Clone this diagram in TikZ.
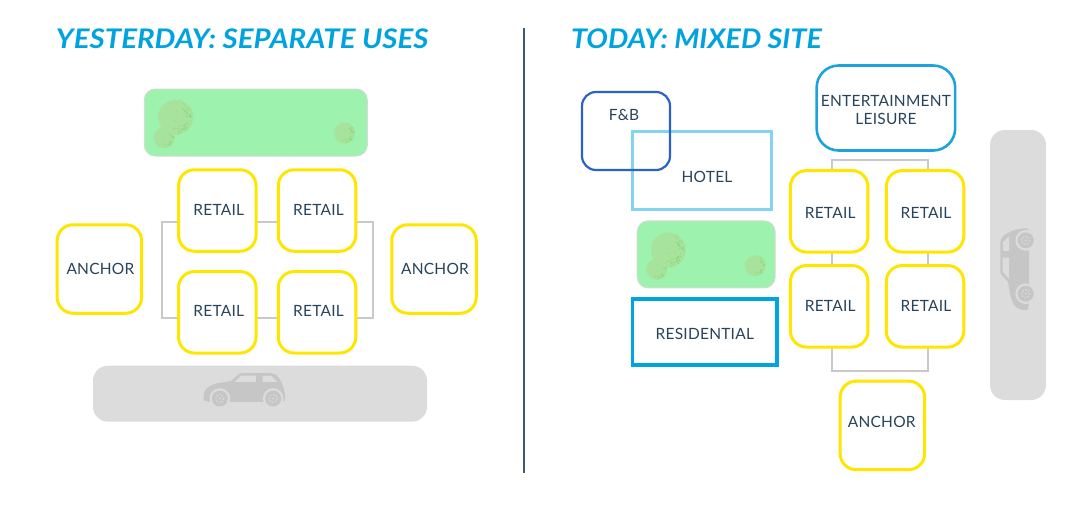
\documentclass[tikz,border=0pt]{standalone}
\usepackage{fontspec}
\setmainfont{Lato}[LetterSpace=1.5]
\newfontfamily\titlefont{Lato}[LetterSpace=0,FakeStretch=1.09]
\newfontfamily\titlefontb{Lato}[LetterSpace=0,FakeStretch=1.062]
\definecolor{inkc}{HTML}{27445C}
\definecolor{titlec}{HTML}{00A3E0}
\definecolor{yellowc}{HTML}{FFE600}
\definecolor{roadc}{HTML}{DCDCDC}
\definecolor{framec}{HTML}{C9C9C9}
\definecolor{carc}{HTML}{C6C6C6}
\definecolor{grassc}{HTML}{9DF2AE}
\definecolor{grassb}{HTML}{D2DCD4}
\definecolor{dotc}{HTML}{78CC70}
\definecolor{fnbc}{HTML}{2A62C9}
\definecolor{hotelc}{HTML}{85D3F2}
\definecolor{resc}{HTML}{00A5DF}
\definecolor{entc}{HTML}{1BA3DD}
\definecolor{divc}{HTML}{3E5A6E}
\pgfdeclareradialshading{treeball}{\pgfpoint{-10bp}{10bp}}{
  rgb(0bp)=(0.66,0.89,0.62);
  rgb(38bp)=(0.65,0.89,0.60);
  rgb(48bp)=(0.59,0.87,0.56);
  rgb(62bp)=(0.46,0.80,0.44)}
\tikzset{
  every node/.style={inner sep=0pt,outer sep=0pt,text=inkc,font=\fontsize{15.5}{18}\selectfont},
  pad/.style={rectangle,draw=#1,line width=3pt,fill=white},
  retailbox/.style={pad=yellowc,rounded corners=16pt,minimum width=77.5pt,minimum height=81.5pt},
  anchorbox/.style={pad=yellowc,rounded corners=16pt,minimum width=84.5pt,minimum height=88.5pt},
  roadbox/.style={rectangle,fill=roadc,rounded corners=15pt},
  grassbox/.style={rectangle,fill=grassc,draw=grassb,line width=1pt,rounded corners=11pt,minimum width=223pt,minimum height=67pt},
  framebox/.style={rectangle,draw=framec,line width=2pt},
  headline/.style={anchor=base west,text=titlec,font=\bfseries\itshape\fontsize{27}{30}\selectfont},
  tree/.pic={
    \shade[shading=treeball] (0,0) circle (1);
    \pgfmathsetseed{11}
    \foreach \i in {1,...,40}{
      \pgfmathsetmacro\aa{-60+170*rnd}
      \pgfmathsetmacro\rr{0.6+0.37*rnd}
      \fill[dotc] (\aa:\rr) circle (0.028);
    }
    \foreach \i in {1,...,8}{
      \pgfmathsetmacro\aa{360*rnd}
      \pgfmathsetmacro\rr{0.9*rnd}
      \fill[dotc,opacity=.5] (\aa:\rr) circle (0.025);
    }
  },
  car/.pic={
    \begin{scope}[scale=1/3]
    \fill[carc] (-128,6) .. controls (-132,-20) and (-122,-38) .. (-85,-46)
      -- (-45,-53) -- (-22,-74) .. controls (-20,-76) and (-18,-76) .. (-15,-76)
      -- (72,-76) .. controls (90,-76) and (96,-64) .. (102,-54)
      .. controls (112,-36) and (116,-18) .. (116,6) -- (100,10) -- (-110,10) -- cycle;
    \fill[roadc] (-35,-50) -- (-15,-69) -- (28,-69) -- (28,-50) -- cycle;
    \fill[roadc] (48,-68) -- (75,-68) -- (92,-50) -- (48,-50) -- cycle;
    \foreach \wx in {-80,80}{
      \fill[roadc] (\wx,0) circle (31);
      \fill[carc] (\wx,0) circle (24);
      \draw[roadc,line width=1pt,dash pattern=on 1.5pt off 1.5pt] (\wx,0) circle (12);
      \fill[roadc] (\wx,0) circle (3);
    }
    \end{scope}
  }
}
\begin{document}
\begin{tikzpicture}[x=1pt,y=-1pt]
\useasboundingbox (0,0) rectangle (1080,520);

% Left panel
\node[headline] (titleL) at (56,48.5) {\titlefont YESTERDAY: SEPARATE USES};
\node[grassbox] (parkL) at (255.8,122.5) {};
\pic at (164.3,137.7) [scale=10.5] {tree};
\pic at (175.7,117.3) [scale=17.5] {tree};
\pic at (344.7,133) [scale=10.5] {tree};
\node[framebox,minimum width=211pt,minimum height=96pt] (frameL) at (267.5,270) {};
\node[retailbox] (rL1) at (217.3,210.5) {\hspace*{3pt}\raisebox{1.5pt}{RETAIL}};
\node[retailbox] (rL2) at (317,210.5) {\hspace*{3pt}\raisebox{1.5pt}{RETAIL}};
\node[retailbox] (rL3) at (217.3,312.3) {\hspace*{3pt}\raisebox{2pt}{RETAIL}};
\node[retailbox] (rL4) at (317,312.3) {\hspace*{3pt}\raisebox{2pt}{RETAIL}};
\node[anchorbox] (aL1) at (99.4,269) {\hspace*{2pt}ANCHOR};
\node[anchorbox] (aL2) at (434,269) {\hspace*{2pt}ANCHOR};
\node[roadbox,minimum width=334pt,minimum height=56pt] (roadL) at (260,393.7) {};
\pic at (246.5,398.5) {car};

% Divider
\coordinate (divT) at (524,28);
\coordinate (divB) at (524,473);
\draw[divc,line width=1.2pt] (divT) -- (divB);

% Right panel
\node[headline] (titleR) at (571,48.5) {\titlefontb TODAY: MIXED SITE};
\node[rectangle,draw=hotelc,line width=2.6pt,minimum width=139pt,minimum height=78pt] (hotel) at (702,170.5) {};
\node (hotelT) at (707,177) {HOTEL};
\node[rectangle,draw=fnbc,line width=2.2pt,rounded corners=14pt,minimum width=88pt,minimum height=78pt] (fnb) at (626,131) {};
\node (fnbT) at (624,114.5) {F\&B};
\node[grassbox,minimum width=138pt] (parkR) at (706.2,254.4) {};
\pic at (656.7,269.3) [scale=10.5] {tree};
\pic at (668.3,250) [scale=17.5] {tree};
\pic at (755.3,265.7) [scale=10.5] {tree};
\node[rectangle,draw=resc,line width=3.4pt,fill=white,minimum width=144.5pt,minimum height=66pt] (resid) at (704.8,332) {\rule{0pt}{15pt}RESIDENTIAL};
\node[rectangle,draw=entc,line width=2.6pt,rounded corners=22pt,fill=white,minimum width=138.5pt,minimum height=85pt] (ent) at (885.9,108) {};
\node[align=center] (entT) at (886,110) {ENTERTAINMENT\\LEISURE};
\node[framebox,minimum width=96pt,minimum height=211pt] (frameR) at (880,265.2) {};
\node[retailbox] (rR1) at (829.2,211.3) {\hspace*{2pt}\rule{0pt}{13.6pt}RETAIL};
\node[retailbox] (rR2) at (925,211.3) {\hspace*{2pt}\rule{0pt}{13.6pt}RETAIL};
\node[retailbox] (rR3) at (829.2,306.3) {\hspace*{2pt}RETAIL};
\node[retailbox] (rR4) at (925,306.3) {\hspace*{2pt}RETAIL};
\node[anchorbox] (aR) at (882.4,425.4) {};
\node (aRT) at (881.7,421.7) {ANCHOR};
\node[roadbox,minimum width=56pt,minimum height=270pt] (roadR) at (1018,265) {};
\pic[rotate=90] at (1025.7,267) {car};
\end{tikzpicture}
\end{document}
